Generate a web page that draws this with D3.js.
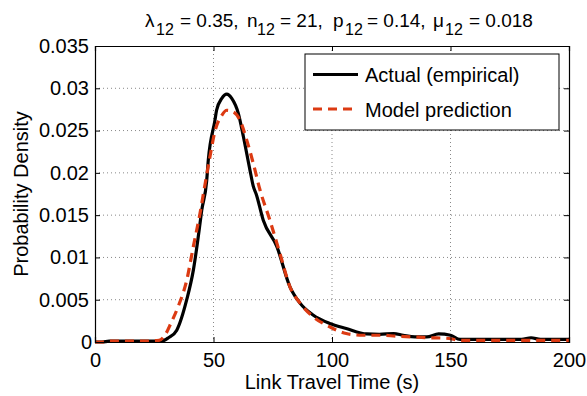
<!DOCTYPE html>
<html><head><meta charset="utf-8">
<script src="https://cdn.jsdelivr.net/npm/d3@7"></script>
<style>
body{margin:0;background:#fff;}
text{font-family:"Liberation Sans",Arial,Helvetica,sans-serif;fill:#000;}
</style></head>
<body><svg id="chart" width="587" height="396"></svg>
<script>
// Data
const actualT = [0,3,6,10,20,28,31,34.5,38.7,41.5,44.3,45,47.1,47.8,50.6,51.3,53.5,55.6,57.7,60.5,62.6,65.4,66.8,68,71,76.7,82.3,86.5,92,99,106,114.6,120,126,130,135,140,145,150,154,160,170,180,184,188,195,200];
const actualD = [0,0,0.0001,0.0001,0.0001,0.0001,0.0005,0.0014,0.005,0.0085,0.014,0.0155,0.019,0.0215,0.0262,0.0274,0.0288,0.0293,0.0288,0.027,0.0243,0.0203,0.0184,0.0175,0.0144,0.0113,0.0065,0.0046,0.0032,0.0022,0.0016,0.00095,0.0009,0.001,0.0008,0.0006,0.0006,0.00095,0.0008,0.0003,0.0003,0.0003,0.0003,0.0005,0.0003,0.0003,0.0003];
const modelT = [0,3,6,10,20,27,29.5,32,35.1,38.7,41.5,44.3,46.4,48.5,50.6,53.5,55.6,58.4,61.2,64,66.8,69.6,73.8,78,82.3,86.5,92,99,106,113,120,127,134,141,148,155,165,175,185,195,200];
const modelD = [0,0,0.0001,0.0001,0.0001,0.0002,0.0008,0.0022,0.0042,0.0073,0.0113,0.0152,0.0186,0.0219,0.0249,0.0268,0.0274,0.0272,0.0262,0.0239,0.0211,0.018,0.0144,0.0105,0.0065,0.0046,0.003,0.0018,0.001,0.0008,0.0008,0.0007,0.0006,0.0005,0.00045,0.0002,0.0002,0.0002,0.0002,0.0002,0.0002];
const xTicks = [0,50,100,150,200];
const yTicks = [0,0.005,0.01,0.015,0.02,0.025,0.03,0.035];
const yTickLabels = ["0","0.005","0.01","0.015","0.02","0.025","0.03","0.035"];
const seriesNames = ["Actual (empirical)","Model prediction"];
const xLabel = "Link Travel Time (s)";
const yLabel = "Probability Density";
// title pieces: [text, isSubscript]
const titleParts = [["λ",0],["12",1],["= 0.35,",0],["n",0],["12",1],["= 21,",0],["p",0],["12",1],["= 0.14,",0],["μ",0],["12",1],["= 0.018",0]];

const svg = d3.select("#chart");
const L=95, R=569, T=46, B=342;
const x = d3.scaleLinear().domain([0,200]).range([L,R]);
const y = d3.scaleLinear().domain([0,0.035]).range([B,T]);
const red = "#dc3a12";
const fs = 20;

// grid
const g = svg.append("g");
g.selectAll(".gx").data(xTicks.slice(1,-1)).enter().append("line")
 .attr("x1",d=>x(d)).attr("x2",d=>x(d)).attr("y1",T).attr("y2",B)
 .attr("stroke","#888").attr("stroke-width",1).attr("stroke-dasharray","1,3");
g.selectAll(".gy").data(yTicks.slice(1,-1)).enter().append("line")
 .attr("y1",d=>y(d)).attr("y2",d=>y(d)).attr("x1",L).attr("x2",R)
 .attr("stroke","#888").attr("stroke-width",1).attr("stroke-dasharray","1,3");

// lines
const lineA = d3.line().x((d,i)=>x(actualT[i])).y(d=>y(d)).curve(d3.curveMonotoneX);
svg.append("path").attr("d",lineA(actualD)).attr("fill","none").attr("stroke","#000").attr("stroke-width",3.2).attr("stroke-linejoin","round");
const lineM = d3.line().x((d,i)=>x(modelT[i])).y(d=>y(d)).curve(d3.curveMonotoneX);
svg.append("path").attr("d",lineM(modelD)).attr("fill","none").attr("stroke",red).attr("stroke-width",3.2).attr("stroke-dasharray","9,6");

// axes (inward ticks)
const tk = 5;
const xb = svg.append("g").attr("transform",`translate(0,${B})`).call(d3.axisBottom(x).tickValues(xTicks).tickSize(-tk).tickPadding(8).tickFormat(d3.format("d")));
const xt = svg.append("g").attr("transform",`translate(0,${T})`).call(d3.axisTop(x).tickValues(xTicks).tickSize(-tk).tickFormat(""));
const yl = svg.append("g").attr("transform",`translate(${L},0)`).call(d3.axisLeft(y).tickValues(yTicks).tickSize(-tk).tickPadding(6).tickFormat((d,i)=>yTickLabels[i]));
const yr = svg.append("g").attr("transform",`translate(${R},0)`).call(d3.axisRight(y).tickValues(yTicks).tickSize(-tk).tickFormat(""));
[xb,xt,yl,yr].forEach(a=>{a.select(".domain").attr("stroke","#000").attr("stroke-width",1.2);a.selectAll(".tick line").attr("stroke","#000");a.selectAll("text").style("font-family","Liberation Sans, Arial, sans-serif").style("font-size",fs+"px").attr("fill","#000");});
xb.selectAll("text").attr("dy","0.71em").attr("y",10.5);
yl.selectAll(".tick text").filter(d=>d===0).attr("x",-3);

// axis labels
svg.append("text").attr("x",(L+R)/2).attr("y",389).attr("text-anchor","middle").style("font-size",fs+"px").text(xLabel);
svg.append("text").attr("transform",`translate(28,${(T+B)/2}) rotate(-90)`).attr("text-anchor","middle").style("font-size",fs+"px").text(yLabel);

// title
const titleX = [145,156,180,247,257,280,333,345,367,433,445,469];
const title = svg.append("g");
titleParts.forEach(([t,s],i)=>{
  title.append("text").attr("x",titleX[i]).attr("y",s?35:27).style("font-size",(s?16:19)+"px").text(t);
});

// legend
const lg = svg.append("g");
lg.append("rect").attr("x",305).attr("y",54).attr("width",254).attr("height",76).attr("fill","#fff").attr("stroke","#000").attr("stroke-width",1);
lg.append("line").attr("x1",313).attr("x2",358).attr("y1",74.5).attr("y2",74.5).attr("stroke","#000").attr("stroke-width",3.2);
lg.append("line").attr("x1",313).attr("x2",356).attr("y1",109).attr("y2",109).attr("stroke",red).attr("stroke-width",3.2).attr("stroke-dasharray","9,6");
lg.append("text").attr("x",365).attr("y",81.5).style("font-size",fs+"px").text(seriesNames[0]);
lg.append("text").attr("x",365).attr("y",117).style("font-size",fs+"px").text(seriesNames[1]);
</script></body></html>
